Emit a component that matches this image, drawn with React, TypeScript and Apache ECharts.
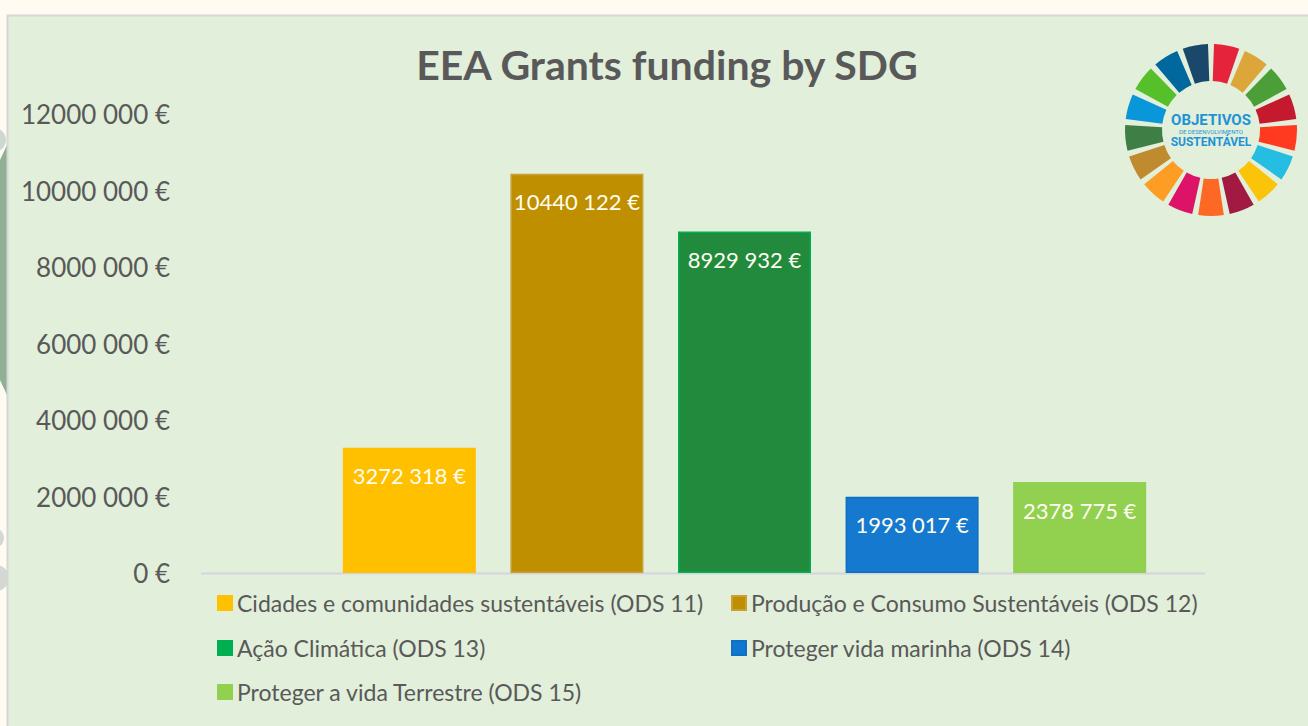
import React, { useEffect, useRef } from "react";
import * as echarts from "echarts";

const titleText = "EEA Grants funding by SDG";
const seriesNames = [
  "Cidades e comunidades sustentáveis (ODS 11)",
  "Produção e Consumo Sustentáveis (ODS 12)",
  "Ação Climática (ODS 13)",
  "Proteger vida marinha (ODS 14)",
  "Proteger a vida Terrestre (ODS 15)",
];
const seriesValues = [3272318, 10440122, 8929932, 1993017, 2378775];
const barColors = ["#ffc000", "#bf8f00", "#228a3c", "#1579d0", "#92d050"];
const barBorders = ["#ffc000", "#c9a033", "#00b050", "#0f6fc0", "#92d050"];
const legendColors = ["#ffc000", "#bf8f00", "#00b050", "#0f77d0", "#92d050"];
const yMin = 0;
const yMax = 12000000;
const yInterval = 2000000;
const sdgColors = [
  "#E5243B", "#DDA63A", "#4C9F38", "#C5192D", "#FF3A21", "#26BDE2",
  "#FCC30B", "#A21942", "#FD6925", "#DD1367", "#FD9D24", "#BF8B2E",
  "#3F7E44", "#0A97D9", "#56C02B", "#00689D", "#19486A",
];

const legendPos = [
  { left: 217, top: 590 },
  { left: 731, top: 590 },
  { left: 217, top: 635 },
  { left: 731, top: 635 },
  { left: 217, top: 679 },
];

function fmtEuro(v: number): string {
  if (v < 1000) return `${v} €`;
  const hi = Math.floor(v / 1000);
  const lo = String(v % 1000).padStart(3, "0");
  return `${hi} ${lo} €`;
}

const FONT = "Lato, 'Open Sans', sans-serif";

export default function App() {
  const ref = useRef<HTMLDivElement>(null);
  useEffect(() => {
    if (!ref.current) return;
    const chart = echarts.init(ref.current, undefined, { renderer: "svg" });

    const cx = 1211, cy = 130, r0 = 49, r = 86;
    const step = (Math.PI * 2) / sdgColors.length;
    const gap = 0.035;
    const sectors = sdgColors.map((c, i) => ({
      type: "sector",
      shape: {
        cx, cy, r0, r,
        startAngle: -Math.PI / 2 + i * step + gap,
        endAngle: -Math.PI / 2 + (i + 1) * step - gap,
        clockwise: true,
      },
      style: { fill: c },
      z: 10,
    }));

    const option: any = {
      animation: false,
      backgroundColor: "#fffaf2",
      title: {
        text: titleText,
        left: 662,
        textAlign: "center",
        top: 39,
        textStyle: { fontFamily: FONT, fontSize: 41, fontWeight: "bold", color: "#595959" },
      },
      grid: { left: 201, top: 114, width: 1087, height: 459 },
      xAxis: {
        type: "category",
        data: [""],
        axisLine: { show: false },
        axisTick: { show: false },
        axisLabel: { show: false },
      },
      yAxis: {
        type: "value",
        min: yMin,
        max: yMax,
        interval: yInterval,
        splitLine: { show: false },
        axisLine: { show: false },
        axisTick: { show: false },
        axisLabel: {
          margin: 31,
          fontFamily: FONT,
          fontSize: 26,
          color: "#595959",
          formatter: (v: number) => fmtEuro(v),
        },
      },
      legend: seriesNames.map((n, i) => ({
        data: [{ name: n, itemStyle: { color: legendColors[i] } }],
        left: legendPos[i].left,
        top: legendPos[i].top,
        padding: 0,
        itemWidth: 14,
        itemHeight: 14,
        icon: "rect",
        selectedMode: false,
        textStyle: { fontFamily: FONT, fontSize: 23, color: "#595959", lineHeight: 26 },
      })),
      series: seriesNames.map((n, i) => ({
        type: "bar",
        name: n,
        data: [seriesValues[i]],
        barWidth: 133,
        barGap: "26%",
        itemStyle: { color: barColors[i], borderColor: barBorders[i], borderWidth: 1.5 },
        label: {
          show: true,
          position: "insideTop",
          distance: 17,
          fontFamily: FONT,
          fontSize: 22,
          color: "#fffdf0",
          formatter: (p: any) => fmtEuro(p.value),
        },
      })),
      graphic: [
        { type: "circle", shape: { cx: -6, cy: 140, r: 12 }, style: { fill: "#cfd8cf" }, z: -12 },
        { type: "polygon", shape: { points: [[0, 160], [7, 145], [7, 395], [0, 380]] }, style: { fill: "#8fb093" }, z: -12 },
        { type: "circle", shape: { cx: -6, cy: 538, r: 10 }, style: { fill: "#d4d8d4" }, z: -12 },
        { type: "circle", shape: { cx: -4, cy: 578, r: 13 }, style: { fill: "#d4d8d4" }, z: -12 },
        {
          type: "rect",
          shape: { x: 7.5, y: 15.5, width: 1310, height: 720 },
          style: { fill: "#e2efda", stroke: "#d6d6d6", lineWidth: 2 },
          z: -10,
        },
        {
          type: "line",
          shape: { x1: 201, y1: 573.5, x2: 1205, y2: 573.5 },
          style: { stroke: "#d4d4dc", lineWidth: 2 },
          z: 1,
        },
        ...sectors,
        {
          type: "text",
          style: { x: cx, y: 120, text: "OBJETIVOS", align: "center", verticalAlign: "middle", font: "bold 15px Roboto, sans-serif", fill: "#1f93d6" },
          z: 11,
        },
        {
          type: "text",
          style: { x: cx, y: 131, text: "DE DESENVOLVIMENTO", align: "center", verticalAlign: "middle", font: "6px Roboto, sans-serif", fill: "#1f93d6" },
          z: 11,
        },
        {
          type: "text",
          style: { x: cx, y: 142, text: "SUSTENTÁVEL", align: "center", verticalAlign: "middle", font: "bold 12px Roboto, sans-serif", fill: "#1f93d6" },
          z: 11,
        },
      ],
    };
    chart.setOption(option);
    return () => chart.dispose();
  }, []);
  return (
    <div
      ref={ref}
      style={{ position: "fixed", left: 0, top: 0, width: 1308, height: 726 }}
    />
  );
}
